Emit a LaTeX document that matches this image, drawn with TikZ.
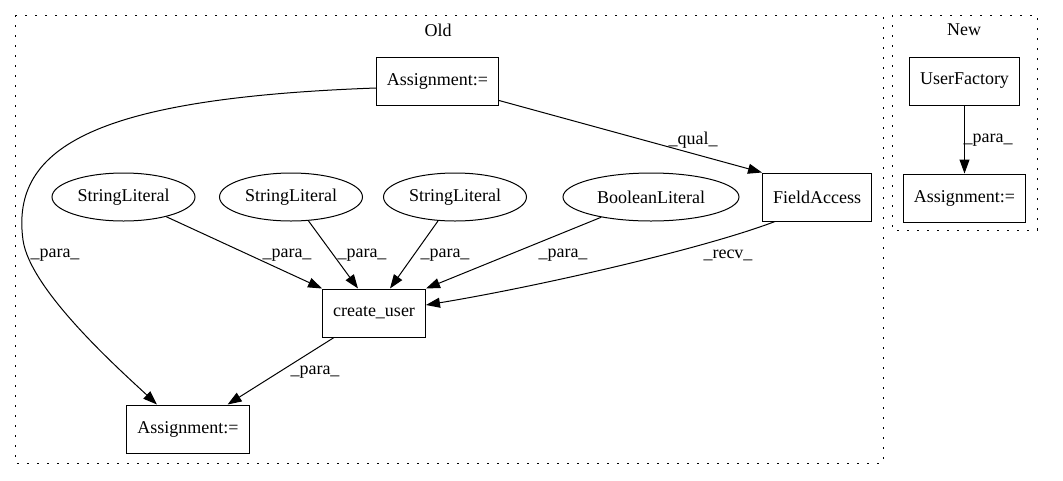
\documentclass[tikz,border=0pt]{standalone}
\usepackage{fontspec}
\setmainfont{Liberation Serif}
\usetikzlibrary{arrows.meta, shapes.geometric, positioning}

\tikzset{
  gvfont/.style={font=\fontsize{18}{21}\selectfont},
  box/.style={draw, rectangle, line width=1pt, minimum height=48pt, inner xsep=10.5pt, gvfont},
  lit/.style={draw, ellipse, line width=1pt, minimum height=48pt, minimum width=143pt, inner sep=0pt, gvfont},
  lbl/.style={inner sep=0pt, gvfont},
  edge/.style={line width=1pt, -{Triangle[length=14pt, width=10pt]}},
  cluster/.style={line width=1pt, dash pattern=on 2pt off 8pt},
}

\begin{document}
\begin{tikzpicture}[x=1pt, y=-1pt]
                \useasboundingbox (0,0) rectangle (1063,480);
                % clusters
                \draw[cluster] (15,15) rectangle (883,463);
                \draw[cluster] (892,15) rectangle (1037,230);
                \node[lbl] (old) at (438,30) {Old};
                \node[lbl] (new) at (964,30) {New};
                % old
                \node[box] (asgOld) at (437.5,81) {Assignment:=};
                \node[lit] (sl1) at (123.5,197) {StringLiteral};
                \node[lit] (sl2) at (291,197) {StringLiteral};
                \node[lit] (sl3) at (455,197) {StringLiteral};
                \node[lit, minimum width=176pt] (bl) at (651,197) {BooleanLiteral};
                \node[box] (fa) at (817,197) {FieldAccess};
                \node[box] (cu) at (374,313) {create\_user};
                \node[box] (asgOut) at (188,429) {Assignment:=};
                % new
                \node[box] (uf) at (964.5,81) {UserFactory};
                \node[box, below=68pt of uf] (asgNew) {Assignment:=};
                % edges
                \draw[edge] ([yshift=-7pt]asgOld.west) .. controls (100,98) and (10,145) .. (23,240)
                    .. controls (30,290) and (120,370) .. ([xshift=-31pt]asgOut.north);
                \draw[edge] ([yshift=5pt]asgOld.south east) -- (fa.north west);
                \draw[edge] (sl1) -- (cu.north west);
                \draw[edge] (sl2) -- ([xshift=-16pt]cu.north);
                \draw[edge] (sl3) -- ([xshift=16pt]cu.north);
                \draw[edge] (bl) -- (cu.north east);
                \draw[edge] ([xshift=13pt]fa.south west) .. controls (700,250) and (530,288) .. ([yshift=8pt]cu.east);
                \draw[edge] ([xshift=12pt]cu.south west) -- ([xshift=-22pt]asgOut.north east);
                \draw[edge] (uf) -- (asgNew);
                % edge labels
                \node[lbl] (lPara1) at (55,255) {\_para\_};
                \node[lbl] (lQual) at (693,140) {\_qual\_};
                \node[lbl] (lPara2) at (287,255) {\_para\_};
                \node[lbl] (lPara3) at (362,255) {\_para\_};
                \node[lbl] (lPara4) at (445,255) {\_para\_};
                \node[lbl] (lPara5) at (563,255) {\_para\_};
                \node[lbl] (lRecv) at (728,255) {\_recv\_};
                \node[lbl] (lPara6) at (315,372) {\_para\_};
                \node[lbl] (lPara7) at (988,140) {\_para\_};
            \end{tikzpicture}
\end{document}
